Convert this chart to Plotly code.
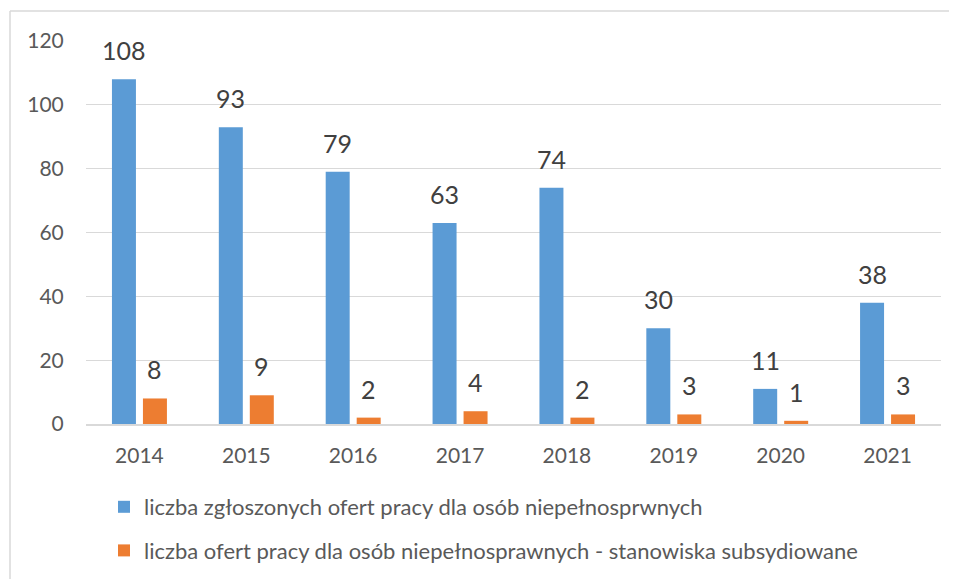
import plotly.graph_objects as go

years = ["2014", "2015", "2016", "2017", "2018", "2019", "2020", "2021"]
offers_total = [108, 93, 79, 63, 74, 30, 11, 38]
offers_subsidised = [8, 9, 2, 4, 2, 3, 1, 3]
name_total = "liczba zgłoszonych ofert pracy dla osób niepełnosprwnych"
name_sub = "liczba ofert pracy dla osób niepełnosprawnych - stanowiska subsydiowane"
y_ticks = [0, 20, 40, 60, 80, 100, 120]

FONT = "Lato, Carlito, Calibri, sans-serif"
W, H = 957, 579
ML, MR, MT, MB = 78, 24, 33, 163
BARGAP, GROUPGAP = 0.42, 0.226
plot_w = W - ML - MR
plot_h = H - MT - MB
slot = plot_w / len(years) * (1 - BARGAP) / 2

fig = go.Figure()
fig.add_trace(go.Bar(
    x=years, y=offers_total, name=name_total,
    marker=dict(color="#5B9BD5", line=dict(width=0)),
    legendgroup="a", hoverinfo="x+y",
))
fig.add_trace(go.Bar(
    x=years, y=offers_subsidised, name=name_sub,
    marker=dict(color="#ED7D31", line=dict(width=0)),
    legendgroup="b", hoverinfo="x+y",
))

annotations = []
for series, shift in ((offers_total, -slot / 2), (offers_subsidised, slot / 2)):
    for i, v in enumerate(series):
        annotations.append(dict(
            x=i, y=v, xref="x", yref="y", text=str(v), showarrow=False,
            xshift=shift, yshift=12, yanchor="bottom", xanchor="center",
            font=dict(size=25, color="#404040", family=FONT),
        ))

fig.update_layout(
    width=W, height=H,
    margin=dict(l=ML, r=MR, t=MT, b=MB, autoexpand=False),
    paper_bgcolor="white", plot_bgcolor="white",
    barmode="group", bargap=BARGAP, bargroupgap=GROUPGAP,
    font=dict(family=FONT, color="#595959", size=21),
    showlegend=True,
    legend=dict(
        orientation="v", xref="container", yref="container",
        x=96 / W, xanchor="left", y=1 - 478 / H, yanchor="top",
        font=dict(size=22, color="#595959", family=FONT),
        tracegroupgap=12, itemwidth=30, bgcolor="rgba(0,0,0,0)",
    ),
    annotations=annotations,
    shapes=[
        dict(type="line", xref="paper", yref="paper",
             x0=-(ML - 2) / plot_w, x1=1 + MR / plot_w,
             y0=1 + (MT - 3) / plot_h, y1=1 + (MT - 3) / plot_h,
             line=dict(color="#D9D9D9", width=1.5)),
        dict(type="line", xref="paper", yref="paper",
             x0=-(ML - 2) / plot_w, x1=-(ML - 2) / plot_w,
             y0=1 + (MT - 3) / plot_h, y1=-MB / plot_h,
             line=dict(color="#D9D9D9", width=1.5)),
    ],
)
fig.update_xaxes(
    type="category", categoryorder="array", categoryarray=years,
    range=[-0.5, len(years) - 0.5],
    showgrid=False, showline=True, linecolor="#D9D9D9", linewidth=1.5,
    ticks="outside", ticklen=12, tickcolor="rgba(0,0,0,0)",
    tickfont=dict(size=21, color="#595959", family=FONT),
)
fig.update_yaxes(
    range=[0, 120], tickvals=y_ticks, showgrid=True, gridcolor="#D9D9D9",
    gridwidth=1, zeroline=False, showline=False,
    ticks="outside", ticklen=17, tickcolor="rgba(0,0,0,0)",
    tickfont=dict(size=21, color="#595959", family=FONT),
)

fig.write_html("out.html")
